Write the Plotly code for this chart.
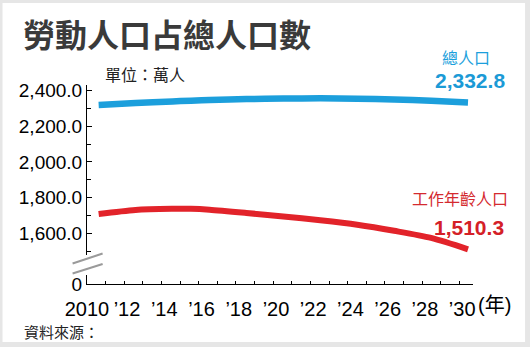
import plotly.graph_objects as go

# ---------------- data ----------------
years = [2010, 2012, 2014, 2015, 2016, 2018, 2020, 2022, 2024, 2026, 2028, 2030]
total_pop = [2319, 2330, 2339, 2343, 2347, 2352, 2355, 2356, 2354, 2350, 2343, 2332.8]
working_pop = [1708, 1731, 1737, 1737, 1732, 1714, 1694, 1673, 1648, 1614, 1574, 1510.3]

y_tick_vals = [1600, 1800, 2000, 2200, 2400]
y_tick_text = ["1,600.0", "1,800.0", "2,000.0", "2,200.0", "2,400.0"]
x_tick_years = list(range(2010, 2031))
x_tick_text = ["2010" if y == 2010 else ("\u00a0’" + str(y)[2:] if y % 2 == 0 else "") for y in x_tick_years]

title = "勞動人口占總人口數"
unit = "單位：萬人"
source = "資料來源："
name_total = "總人口"
name_work = "工作年齡人口"

# ---------------- layout geometry ----------------
W, H = 530, 347
L, R = 87.4, 473.0   # plot area pixel x
T, B = 85.0, 284.0   # plot area pixel y
pw, ph = R - L, B - T

def px(x):
    return (x - L) / pw

def py(y):
    return (B - y) / ph

BLUE = "#1c9fdc"
RED = "#e2232a"
FONT = "Liberation Sans, Arial, Noto Sans CJK TC, sans-serif"
CJK = "Noto Sans CJK TC, Liberation Sans, sans-serif"

fig = go.Figure()
fig.add_trace(go.Scatter(x=years, y=total_pop, mode="lines",
                         line=dict(color=BLUE, width=6.5, shape="spline", smoothing=0.8),
                         xaxis="x", yaxis="y", hoverinfo="skip"))
fig.add_trace(go.Scatter(x=years, y=working_pop, mode="lines",
                         line=dict(color=RED, width=6, shape="spline", smoothing=0.8),
                         xaxis="x", yaxis="y", hoverinfo="skip"))
# dummy trace to activate lower axes
fig.add_trace(go.Scatter(x=[2010], y=[0], mode="markers", marker=dict(opacity=0),
                         xaxis="x2", yaxis="y2", hoverinfo="skip"))

top_bottom = py(255)
low_top = py(275)

fig.update_layout(
    width=W, height=H,
    margin=dict(l=L, r=W - R, t=T, b=H - B, pad=0),
    paper_bgcolor="#e6e6e6",
    plot_bgcolor="rgba(0,0,0,0)",
    showlegend=False,
    xaxis=dict(domain=[0, 1], anchor="y", range=[2009.37, 2030.27], visible=False),
    yaxis=dict(domain=[top_bottom, 1], anchor="x", range=[1478.4, 2430.8],
               tickvals=y_tick_vals, ticktext=y_tick_text,
               ticks="inside", ticklen=5, tickcolor="black", tickwidth=1,
               minor=dict(ticks="inside", dtick=100, tick0=1500, ticklen=4, tickcolor="black"),
               showline=True, linecolor="black", linewidth=1,
               showgrid=False, zeroline=False,
               tickfont=dict(family=FONT, size=19, color="black")),
    xaxis2=dict(domain=[0, 1], anchor="y2", range=[2010, 2030.73],
                tickvals=x_tick_years, ticktext=x_tick_text, tickangle=0,
                ticks="inside", ticklen=3, tickcolor="black",
                showline=True, linecolor="black", linewidth=1,
                showgrid=False, zeroline=False, ticklabelstandoff=7,
                tickfont=dict(family=FONT, size=20, color="black")),
    yaxis2=dict(domain=[0, low_top], anchor="x2", range=[0, 50],
                tickvals=[0], ticktext=["0"], ticks="",
                showline=True, linecolor="black", linewidth=1,
                showgrid=False, zeroline=False,
                tickfont=dict(family=FONT, size=19, color="black")),
)

shapes = [
    dict(type="rect", xref="paper", yref="paper", layer="below",
         x0=px(3), x1=px(525), y0=py(342), y1=py(3),
         fillcolor="white", line=dict(width=0)),
    dict(type="line", xref="paper", yref="paper",
         x0=px(73), y0=py(263.5), x1=px(103), y1=py(253.5),
         line=dict(color="#9a9a9a", width=2)),
    dict(type="line", xref="paper", yref="paper",
         x0=px(73), y0=py(273.5), x1=px(103), y1=py(264),
         line=dict(color="#9a9a9a", width=2)),
]
fig.update_layout(shapes=shapes)

def ann(text, x, y, size, color, bold=False, family=CJK, xanchor="center"):
    if bold:
        text = "<b>" + text + "</b>"
    return dict(text=text, x=px(x), y=py(y), xref="paper", yref="paper",
                xanchor=xanchor, yanchor="middle", showarrow=False,
                font=dict(family=family, size=size, color=color))

annotations = [
    ann(title, 21, 33, 32, "#3a3a3a", bold=True, xanchor="left"),
    ann(unit, 145, 74, 16, "#222222"),
    ann(name_total, 466, 57, 16, BLUE),
    ann(f"{total_pop[-1]:,.1f}", 470, 81, 21, "#1b9ad6", bold=True, family=FONT),
    ann(name_work, 460, 198, 16, "#d42a2f"),
    ann(f"{working_pop[-1]:,.1f}", 469, 227, 21, "#d42027", bold=True, family=FONT),
    ann("(年)", 494, 305, 20, "black", family=FONT),
    ann(source, 62, 331, 15, "#222222"),
]
fig.update_layout(annotations=annotations)

fig.write_html("out.html")
